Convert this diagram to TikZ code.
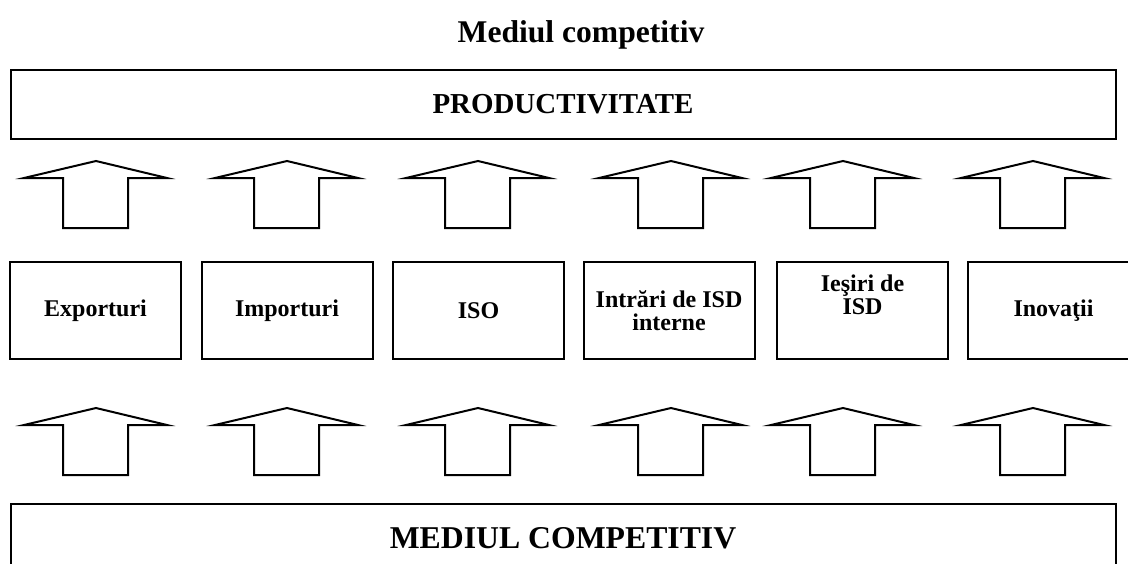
\documentclass[tikz,border=0pt]{standalone}
\usepackage{fontspec}
\setmainfont{Liberation Serif}
\begin{document}
\begin{tikzpicture}[
        x=0.75pt, y=-0.75pt,
        box/.style={draw, line width=1.5pt, minimum width=128.25pt, minimum height=72.75pt, inner sep=0pt, align=center, font=\bfseries\fontsize{18}{17.5}\selectfont},
        band/.style={draw, line width=1.5pt, minimum width=828.75pt, minimum height=51.75pt, inner sep=0pt},
        uparrow/.pic={\draw[line width=1.5pt, line join=miter] (-33,17) -- (-72,17) -- (0,0) -- (71,17) -- (32,17) -- (32,67) -- (-33,67) -- cycle;}
    ]
        \useasboundingbox (0,0) rectangle (1128,564);

        \node[anchor=base, font=\bfseries\fontsize{23.7}{26}\selectfont] (title) at (581,42) {Mediul competitiv};

        \node[band, font=\bfseries\fontsize{21.7}{24}\selectfont] (prod) at (563,104.5) {PRODUCTIVITATE};
        \node[band, font=\bfseries\fontsize{23.8}{26}\selectfont] (mediu) at (563,538.5) {MEDIUL COMPETITIV};

        \node[box] (export) at (95.5,310.5) {Exporturi};
        \node[box] (import) at (287,310.5) {Importuri};
        \node[box] (iso) at (478.5,310.5) {ISO};
        \node[box] (intrari) at (669,310.5) {Intrări de ISD\\interne};
        \node[box] (iesiri) at (862.5,310.5) {};
        \node[box, draw=none] (iesiritxt) at (862.5,295) {Ieşiri de\\ISD};
        \node[box] (inov) at (1053.5,310.5) {Inovaţii};

        % Block arrows between the rows
        \foreach \ax in {96,287,478,671,843,1033} {
            \pic at (\ax,161) {uparrow};
            \pic at (\ax,408) {uparrow};
        }
    \end{tikzpicture}
\end{document}
